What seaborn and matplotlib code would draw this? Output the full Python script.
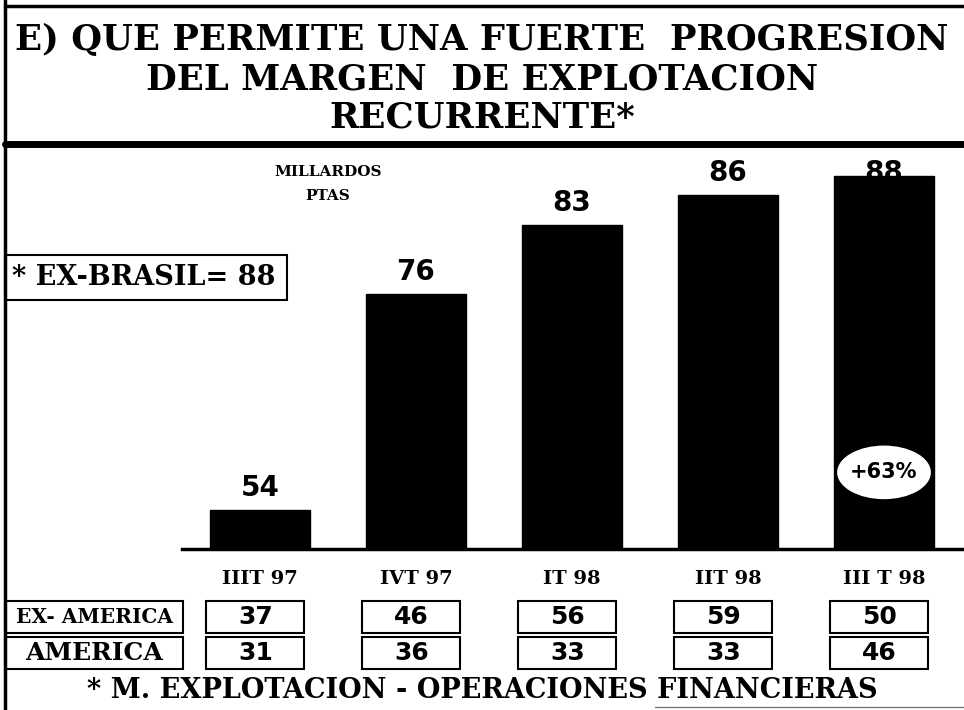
import matplotlib
matplotlib.use('Agg')
import matplotlib.pyplot as plt
import matplotlib.transforms as mtransforms
from matplotlib.patches import Rectangle, Ellipse
import seaborn as sns

# data
quarters = ['IIIT 97', 'IVT 97', 'IT 98', 'IIT 98', 'III T 98']
totals = [54, 76, 83, 86, 88]
ex_america = [37, 46, 56, 59, 50]
america = [31, 36, 33, 33, 46]
row_labels = ['EX- AMERICA', 'AMERICA']
growth_label = '+63%'

title_lines = ['E) QUE PERMITE UNA FUERTE  PROGRESION',
               'DEL MARGEN  DE EXPLOTACION',
               'RECURRENTE*']
footnote = '* M. EXPLOTACION - OPERACIONES FINANCIERAS'

sns.set_style('white')
plt.rcParams['font.family'] = ['DejaVu Serif']
plt.rcParams['text.color'] = 'black'
plt.rcParams['xtick.color'] = 'black'
plt.rcParams['xtick.labelcolor'] = 'black'

W, H = 964, 710
fig = plt.figure(figsize=(W / 100, H / 100), dpi=100)
fig.patch.set_facecolor('white')


def fx(px):
    return px / W


def fy(py):
    return 1 - py / H


serif = 'DejaVu Serif'
sans = 'DejaVu Sans'

# --- frame lines ---
fig.add_artist(plt.Line2D([fx(5), fx(5)], [0, 1], color='black', lw=2.5))
fig.add_artist(plt.Line2D([fx(5), 1], [fy(6), fy(6)], color='black', lw=2.5))
fig.add_artist(plt.Line2D([fx(5), 1], [fy(144), fy(144)], color='black', lw=5))
fig.add_artist(plt.Line2D([fx(655), 1], [fy(707), fy(707)], color='#777777', lw=1))

# --- title ---
for i, line in enumerate(title_lines):
    fig.text(0.5, fy(40 + i * 39), line, ha='center', va='center',
             fontsize=25.5, fontweight='heavy', family=serif)

# --- bar chart ---
ax = fig.add_axes([fx(182), fy(549), fx(962) - fx(182), fy(160) - fy(549)])
ax.set_facecolor('none')
sns.barplot(x=quarters, y=totals, color='black', width=0.64, saturation=1,
            edgecolor='black', ax=ax, zorder=3)
ax.set_xlim(-0.5, len(quarters) - 0.5)
ax.set_ylim(50, 89.6)
for s in ['left', 'right', 'top']:
    ax.spines[s].set_visible(False)
ax.spines['bottom'].set_linewidth(2.5)
ax.spines['bottom'].set_color('black')
ax.set_yticks([])
ax.set_xlabel('')
ax.set_ylabel('')
ax.set_xticks(range(len(quarters)))
ax.set_xticklabels(quarters, fontsize=14, fontweight='heavy', family=serif)
ax.tick_params(axis='x', which='major', length=0, pad=15)
ax.set_xticks([i - 0.5 for i in range(len(quarters) + 1)], minor=True)
ax.tick_params(axis='x', which='minor', length=7, width=2, direction='out',
               color='black')

for i, v in enumerate(totals):
    last = i == len(totals) - 1
    ax.annotate(str(v), (i, v), xytext=(0, -4 if last else 10),
                textcoords='offset points', ha='center', va='baseline',
                fontsize=20, fontweight='heavy', family=sans,
                zorder=1 if last else 4, annotation_clip=False)

# growth bubble on the last bar
ax.add_patch(Ellipse((len(totals) - 1, 57.8), 0.61, 5.6, facecolor='white',
                     edgecolor='black', lw=1, zorder=5))
ax.text(len(totals) - 1, 57.8, growth_label, ha='center', va='center',
        fontsize=15, fontweight='heavy', family=sans, zorder=6)

# --- units / note ---
fig.text(fx(328), fy(172), 'MILLARDOS', ha='center', va='center',
         fontsize=11, fontweight='heavy', family=serif)
fig.text(fx(328), fy(196), 'PTAS', ha='center', va='center',
         fontsize=11, fontweight='heavy', family=serif)
fig.add_artist(Rectangle((fx(5), fy(300)), fx(287) - fx(5), fy(255) - fy(300),
                         transform=fig.transFigure, facecolor='white',
                         edgecolor='black', lw=1.5))
fig.text(fx(12), fy(278), '* EX-BRASIL= 88', ha='left', va='center',
         fontsize=19.5, fontweight='heavy', family=serif)

# --- breakdown table under the bars ---
tr = mtransforms.blended_transform_factory(ax.transData, fig.transFigure)
rows = [ex_america, america]
row_top = [601, 637]
row_h = 32
for r, vals in enumerate(rows):
    y0 = fy(row_top[r] + row_h)
    fig.add_artist(Rectangle((fx(5), y0), fx(183) - fx(5), row_h / H,
                             transform=fig.transFigure, facecolor='white',
                             edgecolor='black', lw=1.5))
    fig.text(fx(94), y0 + row_h / H / 2, row_labels[r], ha='center',
             va='center', fontsize=18 if r else 14.5, fontweight='heavy',
             family=serif)
    for i, v in enumerate(vals):
        fig.add_artist(Rectangle((i - 0.315 - 0.03, y0), 0.63, row_h / H,
                                 transform=tr, facecolor='white',
                                 edgecolor='black', lw=1.5))
        fig.text(i - 0.03, y0 + row_h / H / 2, str(v), transform=tr,
                 ha='center', va='center', fontsize=18, fontweight='heavy',
                 family=sans)

fig.text(0.5, fy(690), footnote, ha='center', va='center', fontsize=19.5,
         fontweight='heavy', family=serif)

fig.savefig('out.png', dpi=100, facecolor='white')
